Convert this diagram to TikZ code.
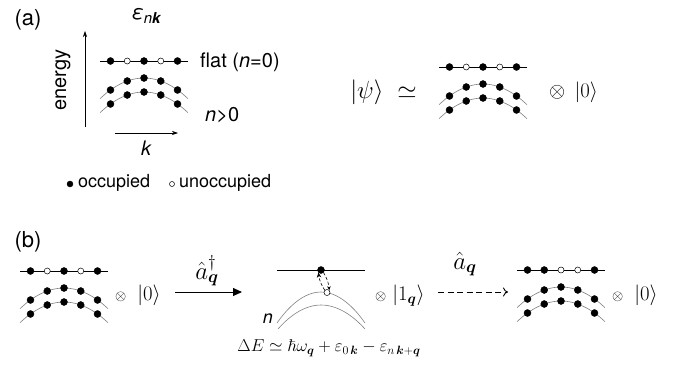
\documentclass[tikz,border=0pt]{standalone}
\usepackage{amsmath,amssymb}
\usepackage[no-math]{fontspec}
\setsansfont{TeX Gyre Heros}
\usetikzlibrary{arrows.meta}
\definecolor{bandgray}{gray}{0.5}
\tikzset{
  fdot/.style={circle,fill=black,draw=black,line width=0.4pt,inner sep=0pt,minimum size=7pt},
  odot/.style={circle,fill=white,draw=black,line width=0.5pt,inner sep=0pt,minimum size=6pt},
  flatline/.style={line width=0.8pt},
  band/.style={bandgray,line width=0.6pt},
  lbl/.style={font=\sffamily\fontsize{20}{22}\selectfont,inner sep=0pt},
  mth/.style={inner sep=0pt},
  axisarrow/.style={line width=0.6pt,-{Stealth[length=6pt,width=4pt]}},
  pics/bands/.style n args={5}{code={
    \draw[band] (-44,37.7) parabola bend (0,17) (44,37.7);
    \draw[band] (-44,51.7) parabola bend (0,31) (44,51.7);
    \draw[flatline] (-44,0) -- (44,0);
    \node[#1] (-f1) at (-33.5,0) {};
    \node[#2] (-f2) at (-16.75,0) {};
    \node[#3] (-f3) at (0,0) {};
    \node[#4] (-f4) at (16.75,0) {};
    \node[#5] (-f5) at (33.5,0) {};
    \node[fdot] (-u1) at (-33.5,29) {};
    \node[fdot] (-u2) at (-16.75,20) {};
    \node[fdot] (-u3) at (0,17) {};
    \node[fdot] (-u4) at (16.75,20) {};
    \node[fdot] (-u5) at (33.5,29) {};
    \node[fdot] (-l1) at (-33.5,43) {};
    \node[fdot] (-l2) at (-16.75,34) {};
    \node[fdot] (-l3) at (0,31) {};
    \node[fdot] (-l4) at (16.75,34) {};
    \node[fdot] (-l5) at (33.5,43) {};
  }}
}
\begin{document}
\begin{tikzpicture}[x=1pt,y=-1pt]
\useasboundingbox (0,0) rectangle (680,372);

% ---------- panel (a)
\node[lbl,font=\sffamily\fontsize{22}{24}\selectfont] (pa) at (28,20) {(a)};
\node[lbl] (eps) at (146,16) {\itshape ε\raisebox{-0.35ex}{\fontsize{15}{15}\selectfont n\bfseries k}};
\coordinate (e0) at (85,127);
\coordinate (e1) at (85,31);
\draw[axisarrow] (e0) -- (e1);
\node[lbl,rotate=90] (energy) at (63,80) {energy};
\coordinate (k0) at (115,133);
\coordinate (k1) at (178,133);
\draw[axisarrow] (k0) -- (k1);
\node[lbl] (klab) at (146,148) {\itshape k};

\pic (A) at (144,61) {bands={fdot}{odot}{fdot}{odot}{fdot}};
\node[lbl,anchor=west] (flat) at (200,62) {flat (\textit{n}=0)};
\node[lbl,anchor=west] (ngt) at (205,115) {\textit{n}>0};

\node[fdot,minimum size=6pt] (legf) at (70,184) {};
\node[lbl,anchor=west,font=\sffamily\fontsize{18}{20}\selectfont] (occ) at (78,183) {occupied};
\node[odot,minimum size=5pt] (lego) at (172,184) {};
\node[lbl,anchor=west,font=\sffamily\fontsize{18}{20}\selectfont] (unocc) at (179,183) {unoccupied};

\node[mth,anchor=east,font=\fontsize{24}{26}\selectfont] (psi) at (417,92) {$|\psi\rangle \;\simeq$};
\pic (B) at (483,67) {bands={fdot}{odot}{fdot}{odot}{fdot}};
\node[mth,anchor=west,font=\fontsize{22}{24}\selectfont] (vacA) at (549,92) {$\otimes\;\,|0\rangle$};

% ---------- panel (b)
\node[lbl,font=\sffamily\fontsize{22}{24}\selectfont] (pb) at (28,242) {(b)};
\pic (C) at (64,271) {bands={fdot}{odot}{fdot}{odot}{fdot}};
\node[mth,anchor=west] (vacC) at (115,295) {{\fontsize{14}{14}\selectfont$\otimes$}\hspace{11pt}{\fontsize{20}{22}\selectfont$|0\rangle$}};

\coordinate (s0) at (175,292);
\coordinate (s1) at (242,292);
\draw[line width=0.9pt,-{Triangle[length=9pt,width=8pt]}] (s0) -- (s1);
\node[mth,font=\fontsize{26}{28}\selectfont] (adag) at (207,271) {$\hat{a}_{\boldsymbol{q}}^{\dagger}$};

% middle excited state
\coordinate (m0) at (277,270);
\coordinate (m1) at (365,270);
\draw[flatline] (m0) -- (m1);
\coordinate (ua) at (277,323);
\coordinate (ub) at (365,323);
\draw[band] (ua) parabola bend (321,292) (ub);
\coordinate (la) at (278,329);
\coordinate (lb) at (365,329);
\draw[band] (la) parabola bend (321,305) (lb);
\node[odot] (hole) at (327,292.5) {};
\node[fdot] (elec) at (321,270) {};
\draw[line width=0.6pt,densely dashed,-{Stealth[length=5pt,width=4.5pt]}] (hole.north west) to[bend left=12] (elec.south west);
\draw[line width=0.6pt,densely dashed,-{Stealth[length=4pt,width=3.5pt]}] (elec.south east) to[bend left=12] (hole.north east);
\node[lbl,font=\sffamily\fontsize{18}{20}\selectfont] (nlab) at (268,319) {\itshape n};
\node[mth,anchor=west] (ph) at (375,296) {{\fontsize{14}{14}\selectfont$\otimes$}\hspace{6pt}{\fontsize{20}{22}\selectfont$|1_{\boldsymbol{q}}\rangle$}};

\coordinate (d0) at (438,292);
\coordinate (d1) at (508,292);
\draw[line width=0.9pt,dashed,dash pattern=on 6pt off 3.5pt,-{To[length=5pt,width=9pt]}] (d0) -- (d1);
\node[mth,font=\fontsize{26}{28}\selectfont] (aq) at (465,264) {$\hat{a}_{\boldsymbol{q}}$};

\pic (D) at (561,270) {bands={fdot}{fdot}{odot}{odot}{fdot}};
\node[mth,anchor=west] (vacD) at (612,295) {{\fontsize{14}{14}\selectfont$\otimes$}\hspace{11pt}{\fontsize{20}{22}\selectfont$|0\rangle$}};

\node[mth,font=\fontsize{17}{19}\selectfont] (dE) at (329,348) {$\Delta E \simeq \hbar\omega_{\boldsymbol{q}} + \varepsilon_{0\,\boldsymbol{k}} - \varepsilon_{n\,\boldsymbol{k}+\boldsymbol{q}}$};
\end{tikzpicture}
\end{document}
